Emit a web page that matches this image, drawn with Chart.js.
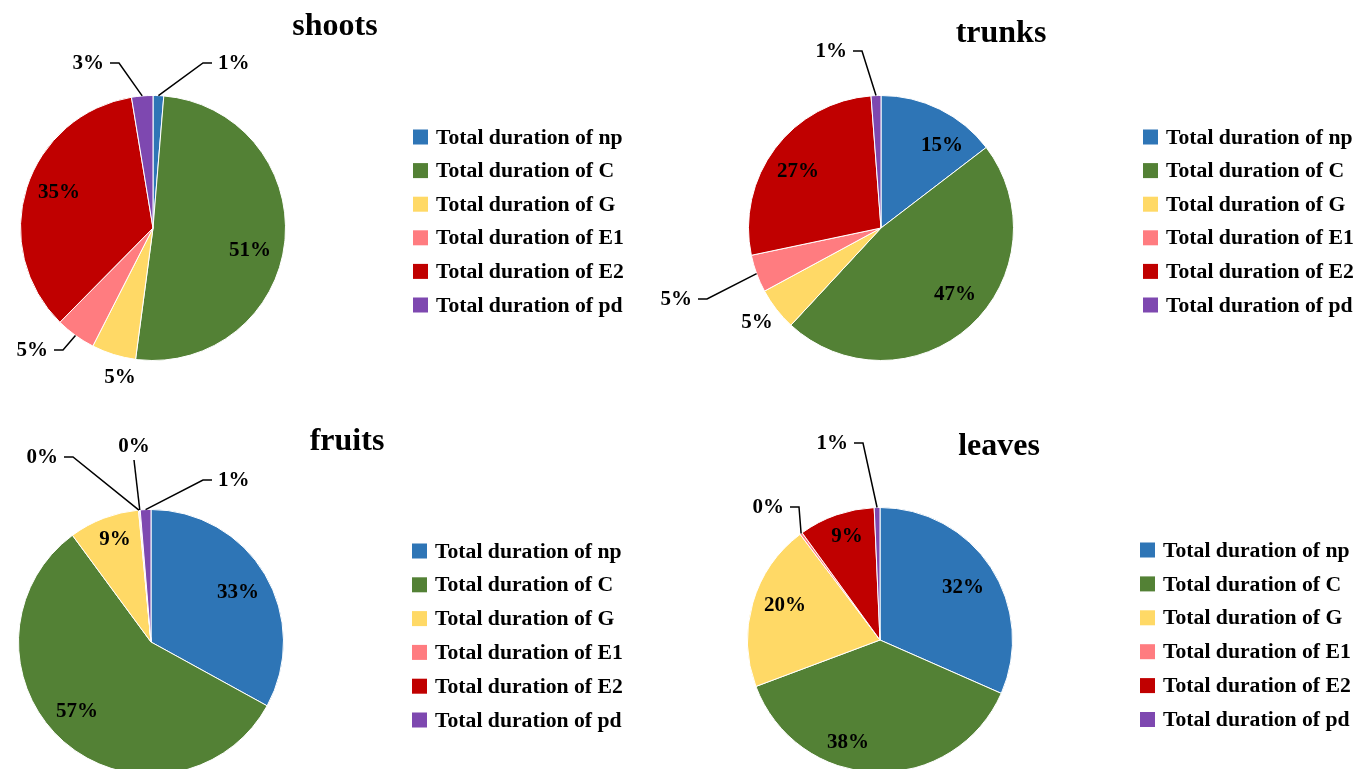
<!DOCTYPE html>
<html>
<head>
<meta charset="utf-8">
<script src="https://cdn.jsdelivr.net/npm/chart.js@4.4.1/dist/chart.umd.min.js"></script>
<style>
html,body{margin:0;padding:0;background:#fff;overflow:hidden;width:1370px;height:769px;}
.q{position:absolute;}
canvas{display:block;}
</style>
</head>
<body>
<div class="q" style="left:0px;top:0px;"><canvas id="c0" width="685" height="385"></canvas></div>
<div class="q" style="left:620px;top:0px;"><canvas id="c1" width="750" height="385"></canvas></div>
<div class="q" style="left:0px;top:385px;"><canvas id="c2" width="685" height="400"></canvas></div>
<div class="q" style="left:620px;top:385px;"><canvas id="c3" width="750" height="400"></canvas></div>
<script>
// ---------- data ----------
const categories = ['Total duration of np','Total duration of C','Total duration of G','Total duration of E1','Total duration of E2','Total duration of pd'];
const panelTitles = ['shoots','trunks','fruits','leaves'];
const shootsValues = [1.3, 50.8, 5.4, 4.9, 35.0, 2.6];
const trunksValues = [14.6, 47.3, 5.2, 4.6, 27.1, 1.2];
const fruitsValues = [33.0, 56.9, 8.6, 0.1, 0.1, 1.3];
const leavesValues = [31.6, 37.7, 20.4, 0.3, 9.3, 0.7];
const sliceColors = ['#2E75B6','#538135','#FFD966','#FF7C80','#C00000','#7E48B0'];

// ---------- layout / style (canvas-local pixels) ----------
const FONT = '"Liberation Serif", "Times New Roman", serif';
const layouts = [
  { canvas:'c0', values: shootsValues, title: panelTitles[0],
    pad:{left:20, top:95, right:399, bottom:24},
    titleX:335, titleY:35, boxX:413, textX:436, rowY:137, rowStep:33.6,
    labels:[
      {type:'out', ex:50, ey:-165, side:'right'},
      {type:'in', dx:97, dy:23},
      {type:'in', dx:-33, dy:150},
      {type:'out', ex:-90, ey:122, side:'left'},
      {type:'in', dx:-94, dy:-35},
      {type:'out', ex:-34, ey:-165, side:'left'}
    ]},
  { canvas:'c1', values: trunksValues, title: panelTitles[1],
    pad:{left:128, top:95, right:356, bottom:24},
    titleX:381, titleY:42, boxX:523, textX:546, rowY:137, rowStep:33.6,
    labels:[
      {type:'in', dx:61, dy:-82},
      {type:'in', dx:74, dy:67},
      {type:'in', dx:-124, dy:95},
      {type:'out', ex:-174, ey:71, side:'left'},
      {type:'in', dx:-83, dy:-56},
      {type:'out', ex:-19, ey:-177, side:'left'}
    ]},
  { canvas:'c2', values: fruitsValues, title: panelTitles[2],
    pad:{left:18, top:124, right:401, bottom:10},
    titleX:347, titleY:65, boxX:412, textX:435, rowY:166, rowStep:33.8,
    labels:[
      {type:'in', dx:87, dy:-49},
      {type:'in', dx:-74, dy:70},
      {type:'in', dx:-36, dy:-102},
      {type:'out', ex:-78, ey:-185, side:'left'},
      {type:'out', ex:-17, ey:-182, side:'up'},
      {type:'out', ex:52, ey:-162, side:'right'}
    ]},
  { canvas:'c3', values: leavesValues, title: panelTitles[3],
    pad:{left:127, top:122, right:357, bottom:12},
    titleX:379, titleY:70, boxX:520, textX:543, rowY:165, rowStep:33.9,
    labels:[
      {type:'in', dx:83, dy:-52},
      {type:'in', dx:-32, dy:103},
      {type:'in', dx:-95, dy:-34},
      {type:'out', ex:-81, ey:-133, side:'left'},
      {type:'in', dx:-33, dy:-103},
      {type:'out', ex:-17, ey:-197, side:'left'}
    ]}
];

const decorPlugin = {
  id: 'panelDecor',
  afterDatasetsDraw(chart, args, opts) {
    const ctx = chart.ctx;
    const meta = chart.getDatasetMeta(0);
    const values = chart.data.datasets[0].data;
    const total = values.reduce((a, b) => a + b, 0);
    ctx.save();
    // data labels
    ctx.fillStyle = '#000';
    ctx.font = 'bold 21px ' + FONT;
    meta.data.forEach((arc, i) => {
      const p = arc.getProps(['x','y','startAngle','endAngle','outerRadius'], true);
      const spec = opts.labels[i];
      const txt = Math.round(values[i] / total * 100) + '%';
      if (spec.type === 'in') {
        ctx.textAlign = 'center'; ctx.textBaseline = 'middle';
        ctx.fillText(txt, p.x + spec.dx, p.y + spec.dy);
      } else {
        const mid = (p.startAngle + p.endAngle) / 2;
        const sx = p.x + Math.cos(mid) * p.outerRadius;
        const sy = p.y + Math.sin(mid) * p.outerRadius;
        const ex = p.x + spec.ex, ey = p.y + spec.ey;
        ctx.beginPath();
        ctx.moveTo(sx, sy);
        ctx.lineTo(ex, ey);
        if (spec.side === 'up') {
          ctx.textAlign = 'center'; ctx.textBaseline = 'bottom';
          ctx.fillText(txt, ex, ey - 3);
        } else {
          const dir = spec.side === 'left' ? -1 : 1;
          const hx = ex + dir * 9;
          ctx.lineTo(hx, ey);
          ctx.textAlign = dir < 0 ? 'right' : 'left';
          ctx.textBaseline = 'middle';
          ctx.fillText(txt, hx + dir * 6, ey + 1);
        }
        ctx.strokeStyle = '#000';
        ctx.lineWidth = 1.5;
        ctx.stroke();
      }
    });
    // title
    ctx.font = 'bold 32px ' + FONT;
    ctx.textAlign = 'center'; ctx.textBaseline = 'alphabetic';
    ctx.fillStyle = '#000';
    ctx.fillText(opts.title, opts.titleX, opts.titleY);
    // legend (items generated by Chart.js pie legend)
    const gen = Chart.overrides.pie.plugins.legend.labels.generateLabels;
    const items = gen(chart);
    ctx.font = 'bold 21.7px ' + FONT;
    ctx.textAlign = 'left'; ctx.textBaseline = 'middle';
    items.forEach((it, i) => {
      const y = opts.rowY + i * opts.rowStep;
      ctx.fillStyle = it.fillStyle;
      ctx.fillRect(opts.boxX, y - 7.5, 15, 15);
      ctx.fillStyle = '#000';
      ctx.fillText(it.text, opts.textX, y + 1);
    });
    ctx.restore();
  }
};

layouts.forEach(L => {
  new Chart(document.getElementById(L.canvas), {
    type: 'pie',
    data: {
      labels: categories,
      datasets: [{
        data: L.values,
        backgroundColor: sliceColors,
        borderColor: '#ffffff',
        borderWidth: 1
      }]
    },
    options: {
      responsive: false,
      animation: false,
      events: [],
      devicePixelRatio: 1,
      layout: { padding: L.pad },
      plugins: {
        legend: { display: false },
        tooltip: { enabled: false },
        title: { display: false },
        panelDecor: { title: L.title, titleX: L.titleX, titleY: L.titleY,
          boxX: L.boxX, textX: L.textX, rowY: L.rowY, rowStep: L.rowStep, labels: L.labels }
      }
    },
    plugins: [decorPlugin]
  });
});
</script>
</body>
</html>
